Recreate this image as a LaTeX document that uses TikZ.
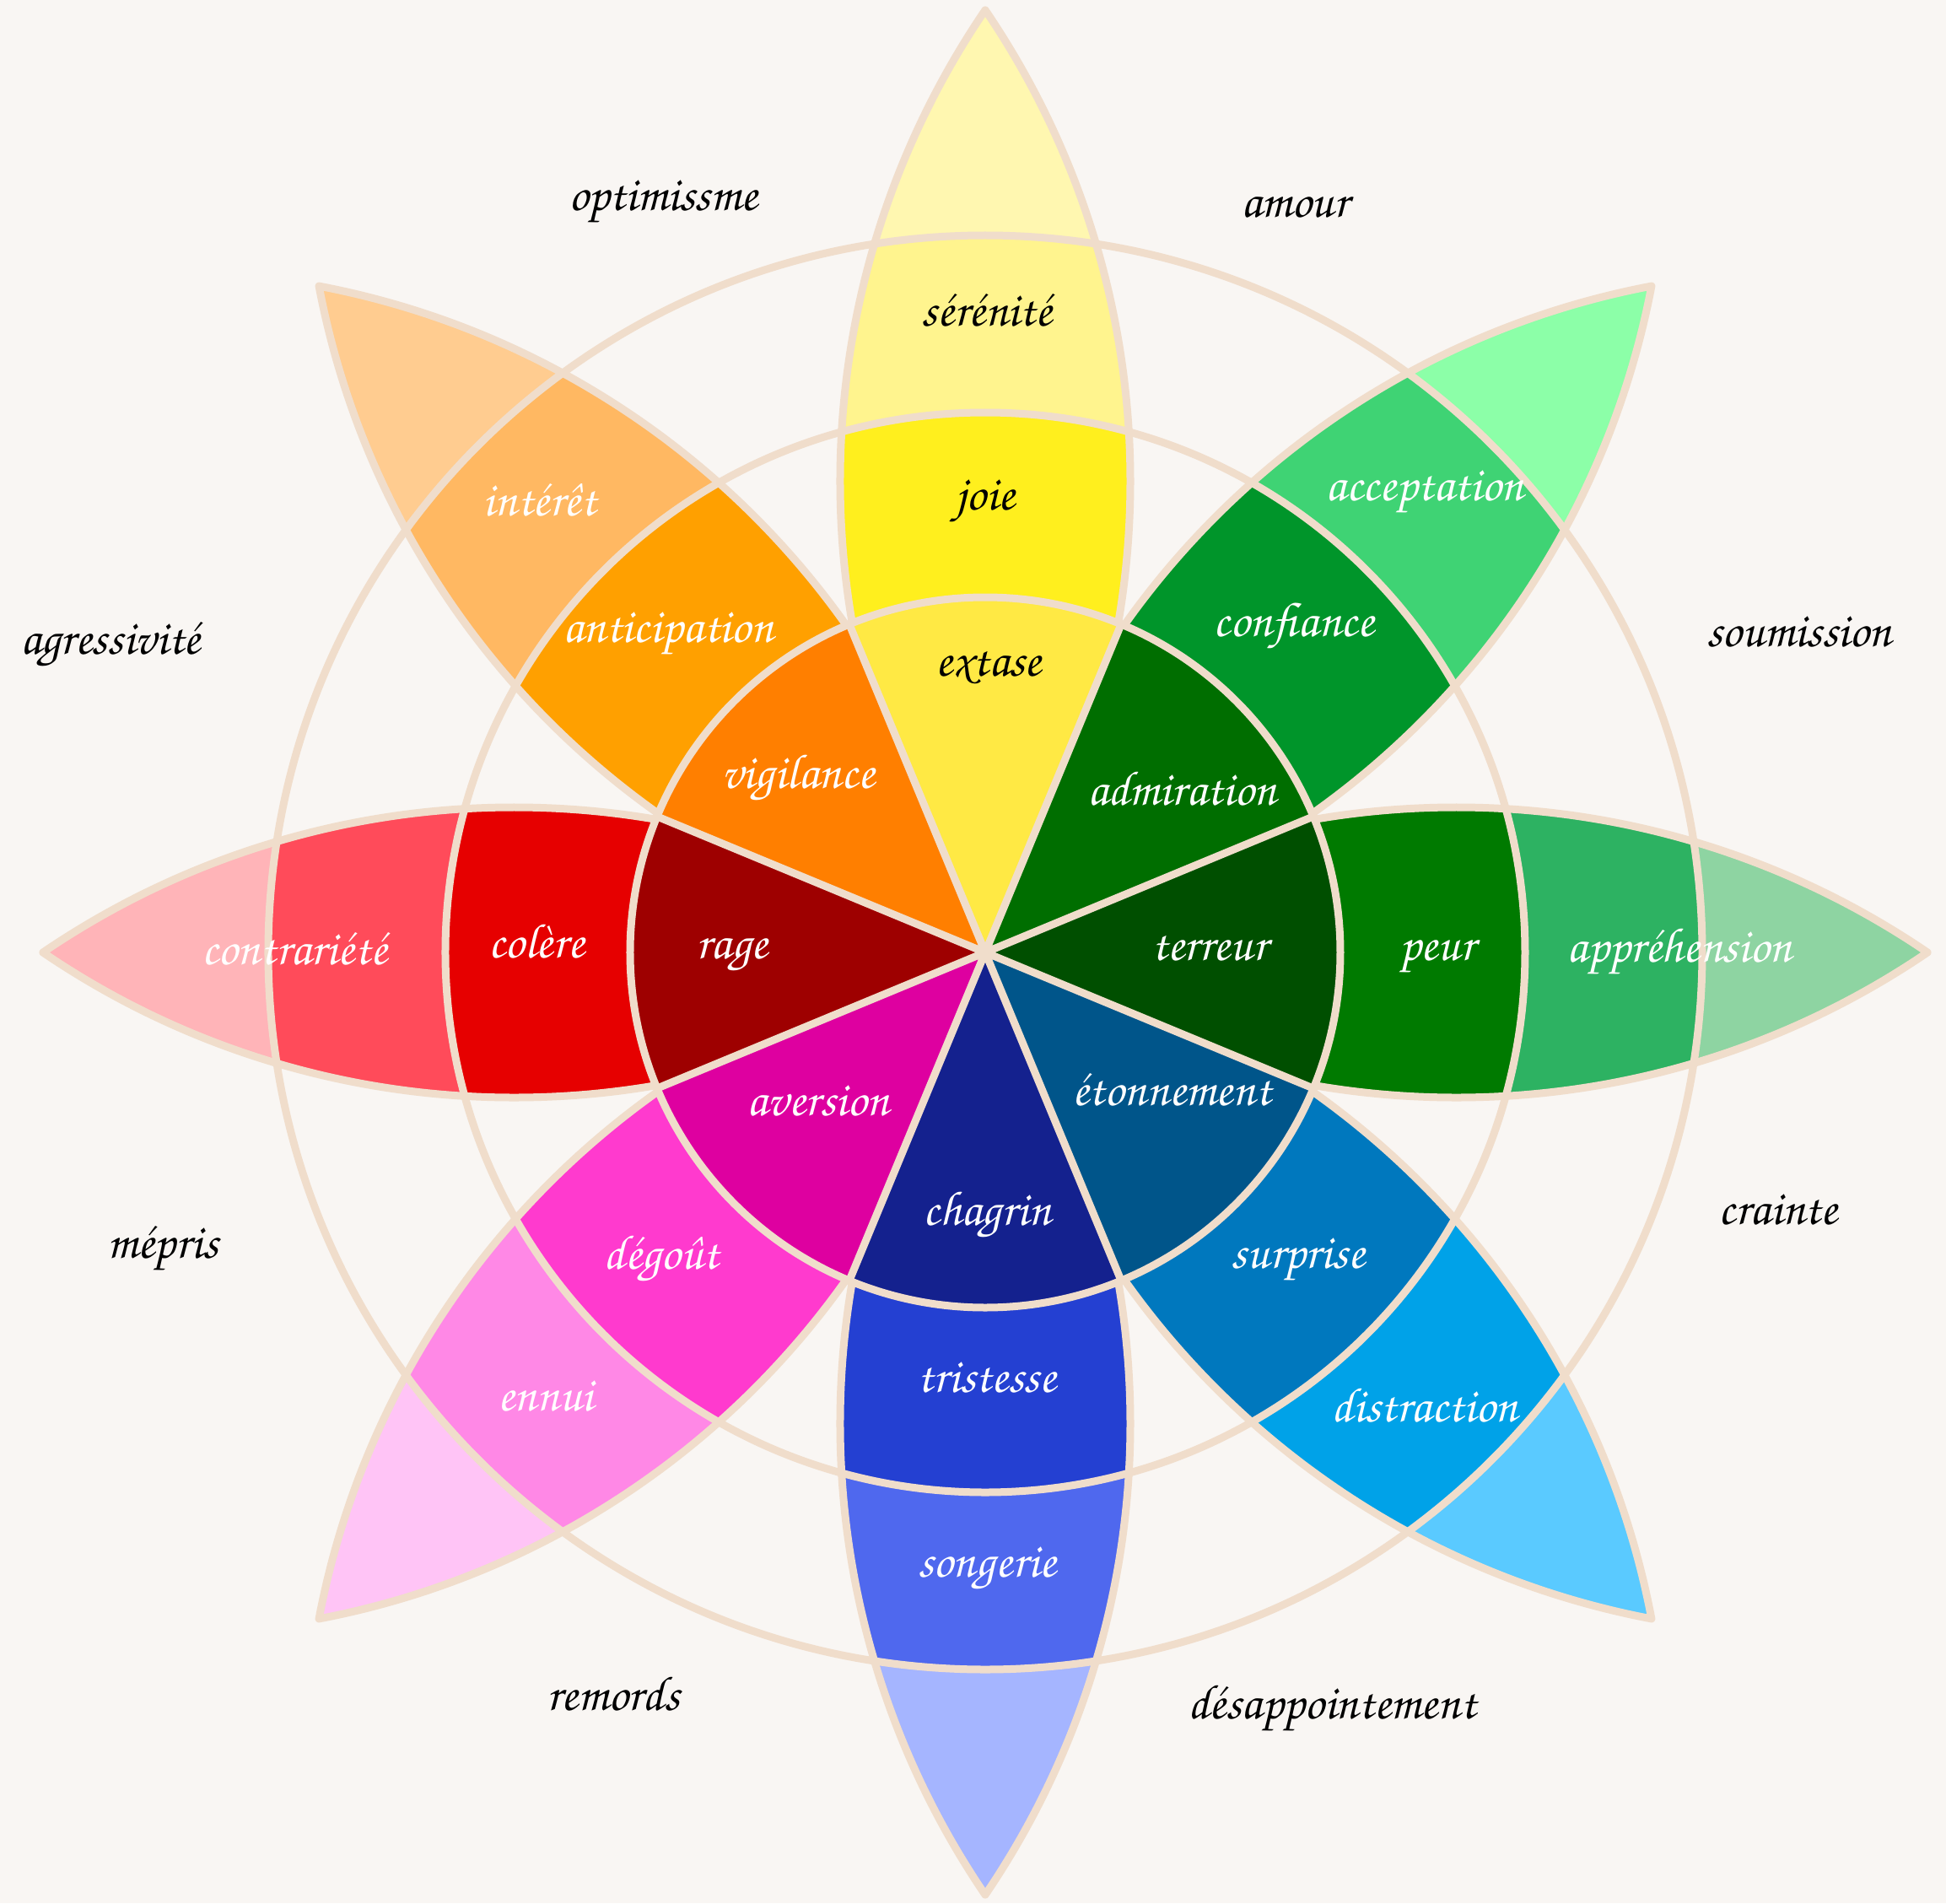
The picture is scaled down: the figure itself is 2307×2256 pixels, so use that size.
\documentclass[tikz,border=0pt]{standalone}
\usepackage[T1,TU]{fontenc}
\definecolor{bgc}{HTML}{F9F6F3}
\definecolor{linec}{HTML}{F0DDCB}
% joy
\definecolor{joyA}{HTML}{FFE944}\definecolor{joyB}{HTML}{FFEF1E}\definecolor{joyC}{HTML}{FFF48E}\definecolor{joyD}{HTML}{FFF7B0}
% trust
\definecolor{truA}{HTML}{006E00}\definecolor{truB}{HTML}{00952A}\definecolor{truC}{HTML}{3FD374}\definecolor{truD}{HTML}{8CFFA8}
% fear
\definecolor{feaA}{HTML}{004F00}\definecolor{feaB}{HTML}{007A00}\definecolor{feaC}{HTML}{2DB262}\definecolor{feaD}{HTML}{8ED4A2}
% surprise
\definecolor{surA}{HTML}{00558A}\definecolor{surB}{HTML}{0078BE}\definecolor{surC}{HTML}{00A2E8}\definecolor{surD}{HTML}{5ACAFF}
% sadness
\definecolor{sadA}{HTML}{14218E}\definecolor{sadB}{HTML}{2440D2}\definecolor{sadC}{HTML}{4F68EE}\definecolor{sadD}{HTML}{A5B5FF}
% disgust
\definecolor{disA}{HTML}{DE00A0}\definecolor{disB}{HTML}{FF3ACE}\definecolor{disC}{HTML}{FF88E6}\definecolor{disD}{HTML}{FFC4F6}
% anger
\definecolor{angA}{HTML}{9E0000}\definecolor{angB}{HTML}{E60000}\definecolor{angC}{HTML}{FF4B5A}\definecolor{angD}{HTML}{FFB4B8}
% anticipation
\definecolor{antA}{HTML}{FF7F00}\definecolor{antB}{HTML}{FFA000}\definecolor{antC}{HTML}{FFB862}\definecolor{antD}{HTML}{FFCC90}
\newcommand\handfont{\fontencoding{T1}\fontfamily{pzc}\fontseries{mb}\fontshape{it}\fontsize{29}{33}\selectfont}
\newcommand\lensclip{\clip (0,0) arc[start angle=124.24, end angle=55.76, radius=992.75] arc[start angle=-55.76, end angle=-124.24, radius=992.75] -- cycle;}
\newcommand\lensdraw{\draw[sepline] (0,0) arc[start angle=124.24, end angle=55.76, radius=992.75] arc[start angle=-55.76, end angle=-124.24, radius=992.75] -- cycle;}
\newcommand\petalfill[4]{%
  \begin{scope}[rotate=#1]
    \begin{scope}
      \lensclip
      \fill[#4] (0,0) circle (1200);
      \fill[#3] (0,0) circle (850);
      \fill[#2] (0,0) circle (640);
    \end{scope}
  \end{scope}}
\newcommand\petaledge[1]{\begin{scope}[rotate=#1]\lensdraw\end{scope}}
\newcommand\sector[2]{\fill[#2] (0,0) -- (#1-22.5:421) arc[start angle=#1-22.5, end angle=#1+22.5, radius=421] -- cycle;}
\begin{document}
\begin{tikzpicture}[x=0.5pt,y=0.5pt,
  sepline/.style={draw=linec, line width=4.5pt, line join=round},
  lblw/.style={font=\handfont, text=white, inner sep=0pt},
  lblk/.style={font=\handfont, text=black, inner sep=0pt}]
\useasboundingbox (-1168,-1127) rectangle (1139,1129);
\fill[bgc] (-1168,-1127) rectangle (1139,1129);
% petals
\petalfill{90}{joyB}{joyC}{joyD}
\petalfill{45}{truB}{truC}{truD}
\petalfill{0}{feaB}{feaC}{feaD}
\petalfill{-45}{surB}{surC}{surD}
\petalfill{-90}{sadB}{sadC}{sadD}
\petalfill{-135}{disB}{disC}{disD}
\petalfill{180}{angB}{angC}{angD}
\petalfill{135}{antB}{antC}{antD}
\foreach \a in {90,45,0,-45,-90,-135,180,135} {\petaledge{\a}}
\draw[sepline] (0,0) circle (640);
\draw[sepline] (0,0) circle (850);
% inner sectors
\sector{90}{joyA}
\sector{45}{truA}
\sector{0}{feaA}
\sector{-45}{surA}
\sector{-90}{sadA}
\sector{-135}{disA}
\sector{180}{angA}
\sector{135}{antA}
\foreach \a in {22.5,67.5,...,337.5} {\draw[sepline] (0,0) -- (\a:421);}
\draw[sepline] (0,0) circle (421);
\fill[linec] (0,0) circle (12);
% labels joy
\node[lblk] (serenite) at (2,761) {sérénité};
\node[lblk] (joie) at (0,533) {joie};
\node[lblk] (extase) at (4,338) {extase};
% trust
\node[lblw] (acceptation) at (521,544) {acceptation};
\node[lblw] (confiance) at (366,386) {confiance};
\node[lblw] (admiration) at (233,195) {admiration};
% fear
\node[lblw] (terreur) at (266,6) {terreur};
\node[lblw] (peur) at (536,-6) {peur};
\node[lblw] (apprehension) at (823,0) {appréhension};
% surprise
\node[lblw] (etonnement) at (221,-163) {étonnement};
\node[lblw] (surprise) at (371,-366) {surprise};
\node[lblw] (distraction) at (521,-536) {distraction};
% sadness
\node[lblw] (chagrin) at (2,-312) {chagrin};
\node[lblw] (tristesse) at (2,-504) {tristesse};
\node[lblw] (songerie) at (2,-732) {songerie};
% disgust
\node[lblw] (aversion) at (-198,-176) {aversion};
\node[lblw] (degout) at (-384,-364) {dégoût};
\node[lblw] (ennui) at (-521,-526) {ennui};
% anger
\node[lblw] (rage) at (-300,-4) {rage};
\node[lblw] (colere) at (-532,14) {colère};
\node[lblw] (contrariete) at (-819,4) {contrariété};
% anticipation
\node[lblw] (vigilance) at (-222,206) {vigilance};
\node[lblw] (anticipation) at (-376,376) {anticipation};
\node[lblw] (interet) at (-528,536) {intérêt};
% dyads
\node[lblk] (optimisme) at (-382,888) {optimissme};
\node[lblk] (amour) at (367,884) {amour};
\node[lblk] (soumission) at (965,380) {soumission};
\node[lblk] (crainte) at (940,-305) {crainte};
\node[lblk] (desappointement) at (411,-897) {désappointement};
\node[lblk] (remords) at (-441,-878) {remords};
\node[lblk] (mepris) at (-975,-352) {mépris};
\node[lblk] (agressivite) at (-1037,364) {agressivité};
\end{tikzpicture}
\end{document}
